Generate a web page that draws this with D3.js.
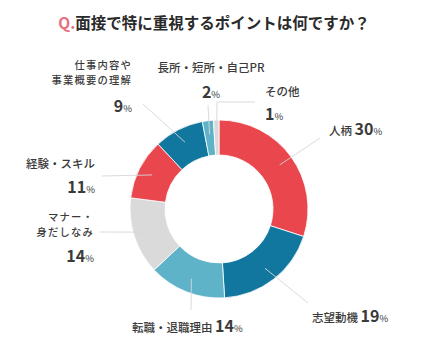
<!DOCTYPE html>
<html><head><meta charset="utf-8">
<script src="https://cdn.jsdelivr.net/npm/d3@7"></script>
<style>
body{margin:0;background:#fff;}
text{font-family:"Noto Sans CJK JP","Noto Sans",sans-serif;}
</style></head>
<body><svg id="c" width="421" height="346"></svg>
<script>
const categories = ["人柄","志望動機","転職・退職理由","マナー・身だしなみ","経験・スキル","仕事内容や事業概要の理解","長所・短所・自己PR","その他"];
const values = [30,19,14,14,11,9,2,1];
const labelLines = [["人柄"],["志望動機"],["転職・退職理由"],["マナー・","身だしなみ"],["経験・スキル"],["仕事内容や","事業概要の理解"],["長所・短所・自己PR"],["その他"]];
const colors = ["#e9474d","#12779f","#5fb3c9","#dadada","#e9474d","#12779f","#5fb3c9","#dadada"];
const title = "面接で特に重視するポイントは何ですか？";

// layout for labels (positions only)
const layout = [
  {pts:[[320,138]], inline:true, anchor:"start", x:329, y:135},
  {pts:[[308,303]], inline:true, anchor:"start", x:312, y:322},
  {pts:[[191,310]], inline:true, anchor:"start", x:132, y:332},
  {pts:[[100,232]], inline:false, anchor:"end", x:94, y:[221,236], ny:262},
  {pts:[[102,176]], inline:false, anchor:"end", x:95, y:[168], ny:193},
  {pts:[[143,104]], inline:false, anchor:"end", x:132, y:[69,84], ny:112},
  {pts:[[208,105]], inline:false, anchor:"middle", x:211, y:[72], ny:98},
  {pts:[[217,102],[255,102]], inline:false, anchor:"start", x:265, y:[96], ny:120}
];

const svg = d3.select("#c");
const cx = 219, cy = 209, rOut = 89, rIn = 54;

const t = svg.append("text").attr("x",214).attr("y",29).attr("text-anchor","middle")
  .attr("font-size",15.5).attr("font-weight","bold").attr("fill","#2a2a2a");
t.append("tspan").text("Q.").attr("fill","#e8707c");
t.append("tspan").text(title);

const pie = d3.pie().sort(null).value(d=>d)(values);
const arc = d3.arc().innerRadius(rIn).outerRadius(rOut);
const g = svg.append("g").attr("transform",`translate(${cx},${cy})`);
g.selectAll("path").data(pie).join("path")
  .attr("d",arc).attr("fill",(d,i)=>colors[i])
  .attr("stroke","#fff").attr("stroke-width",0.8);

const mid = d3.arc().innerRadius(75).outerRadius(75);
const lineG = svg.append("g");
pie.forEach((d,i)=>{
  const c = mid.centroid(d);
  const pts = [[c[0]+cx,c[1]+cy]].concat(layout[i].pts);
  lineG.append("path").attr("d",d3.line()(pts)).attr("fill","none")
    .attr("stroke","#d6d6d6").attr("stroke-opacity",0.9).attr("stroke-width",1);
});

const lab = svg.append("g").attr("fill","#3a3a3a");
layout.forEach((L,i)=>{
  if(L.inline){
    const tx = lab.append("text").attr("x",L.x).attr("y",L.y).attr("text-anchor",L.anchor);
    tx.append("tspan").text(labelLines[i][0]+" ").attr("font-size",11.5).attr("font-weight",500);
    tx.append("tspan").text(values[i]).attr("font-size",16).attr("font-weight","bold");
    tx.append("tspan").text("%").attr("font-size",9.5);
  } else {
    const multi = labelLines[i].length > 1;
    labelLines[i].forEach((s,k)=>{
      lab.append("text").attr("x",L.x).attr("y",L.y[k]).attr("text-anchor",L.anchor)
        .attr("font-size",multi?10.3:11.5).attr("letter-spacing",multi?1.2:0)
        .attr("font-weight",500).text(s);
    });
    const tx = lab.append("text").attr("x",L.x).attr("y",L.ny).attr("text-anchor",L.anchor);
    tx.append("tspan").text(values[i]).attr("font-size",16).attr("font-weight","bold");
    tx.append("tspan").text("%").attr("font-size",9.5);
  }
});
</script></body></html>
